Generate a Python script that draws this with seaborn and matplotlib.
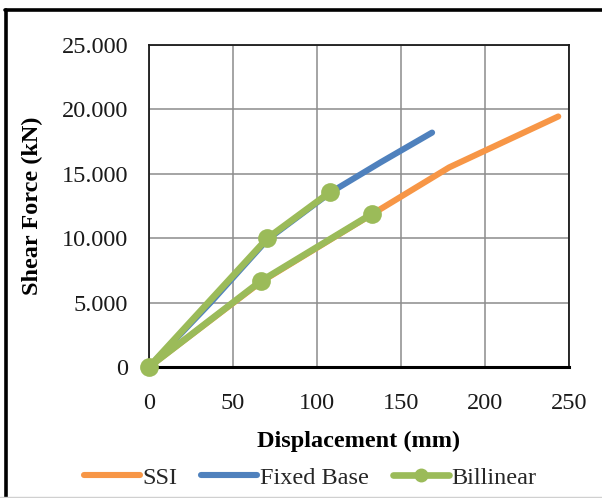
import matplotlib
matplotlib.use("Agg")
import matplotlib.pyplot as plt
from matplotlib.lines import Line2D
from matplotlib.ticker import FuncFormatter, MultipleLocator
import seaborn as sns
import pandas as pd

# Pushover curves: displacement (mm) vs base shear force
ssi_disp = [0, 66.5, 132.6, 178.7, 243.6]
ssi_force = [0, 6600, 11850, 15500, 19450]

fixed_disp = [0, 37.0, 70.5, 108.0, 138.0, 168.5]
fixed_force = [0, 5050, 9900, 13550, 15900, 18200]

# Bilinear idealisations (SSI branch, then fixed-base branch)
bilinear_disp = [132.6, 66.5, 0, 70.5, 108.0]
bilinear_force = [11880, 6660, 0, 10000, 13600]

x_ticks = [0, 50, 100, 150, 200, 250]
y_ticks = [0, 5000, 10000, 15000, 20000, 25000]

ORANGE = "#F79646"
BLUE = "#4F81BD"
GREEN = "#9BBB59"

sns.set_theme(style="white")
plt.rcParams["font.family"] = ["Liberation Serif", "DejaVu Serif"]

fig = plt.figure(figsize=(6.02, 4.98), dpi=100)
ax = fig.add_axes([149 / 602, 1 - 367 / 498, (569 - 149) / 602, (367 - 45) / 498])

ssi = pd.DataFrame({"d": ssi_disp, "f": ssi_force})
fixed = pd.DataFrame({"d": fixed_disp, "f": fixed_force})
bil = pd.DataFrame({"d": bilinear_disp, "f": bilinear_force})

sns.lineplot(data=ssi, x="d", y="f", ax=ax, color=ORANGE, lw=4.4,
             sort=False, solid_capstyle="round", solid_joinstyle="round",
             zorder=3)
sns.lineplot(data=fixed, x="d", y="f", ax=ax, color=BLUE, lw=4.4,
             sort=False, solid_capstyle="round", solid_joinstyle="round",
             zorder=3)
sns.lineplot(data=bil, x="d", y="f", ax=ax, color=GREEN, lw=4.8,
             sort=False, marker="o", markersize=13.5, markeredgewidth=0,
             solid_capstyle="round", solid_joinstyle="round",
             clip_on=False, zorder=5)

ax.set_xlim(x_ticks[0], x_ticks[-1])
ax.set_ylim(y_ticks[0], y_ticks[-1])
ax.xaxis.set_major_locator(MultipleLocator(50))
ax.yaxis.set_major_locator(MultipleLocator(5000))
ax.yaxis.set_major_formatter(
    FuncFormatter(lambda v, p: f"{int(round(v)):,}".replace(",", ".")))

ax.grid(True, color="#8c8c8c", lw=1.1)
ax.set_axisbelow(True)
for name, sp in ax.spines.items():
    sp.set_visible(True)
    sp.set_color("#1a1a1a")
    sp.set_linewidth(1.3)
    sp.set_zorder(2)
ax.spines["bottom"].set_linewidth(2.2)
ax.spines["bottom"].set_color("black")

ax.tick_params(axis="both", length=0, labelsize=17.5, colors="#1a1a1a")
ax.tick_params(axis="y", pad=15)
ax.tick_params(axis="x", pad=19)

ax.set_xlabel("Displacement (mm)", fontsize=17.5, fontweight="bold",
              labelpad=12, color="black")
ax.set_ylabel("Shear Force (kN)", fontsize=17.5, fontweight="bold",
              labelpad=13, color="black")

handles = [
    Line2D([], [], color=ORANGE, lw=4.4, solid_capstyle="round"),
    Line2D([], [], color=BLUE, lw=4.4, solid_capstyle="round"),
    Line2D([], [], color=GREEN, lw=4.8, marker="o", markersize=9,
           solid_capstyle="round"),
]
fig.legend(handles, ["SSI", "Fixed Base", "Billinear"], loc="center",
           bbox_to_anchor=(310 / 602, 1 - 478 / 498), ncol=3, frameon=False,
           fontsize=17.5, handlelength=2.3, handletextpad=0.1,
           columnspacing=1.0)

# Outer chart frame
fig.add_artist(Line2D([5.5 / 602, 5.5 / 602], [0, 1 - 10 / 498],
                      transform=fig.transFigure, color="black", lw=2.6))
fig.add_artist(Line2D([4.5 / 602, 1], [1 - 10.5 / 498, 1 - 10.5 / 498],
                      transform=fig.transFigure, color="black", lw=2.6))
fig.add_artist(Line2D([0, 1], [1.5 / 498, 1.5 / 498],
                      transform=fig.transFigure, color="#d0d0d0", lw=1.0))

fig.savefig("out.png", dpi=100)
